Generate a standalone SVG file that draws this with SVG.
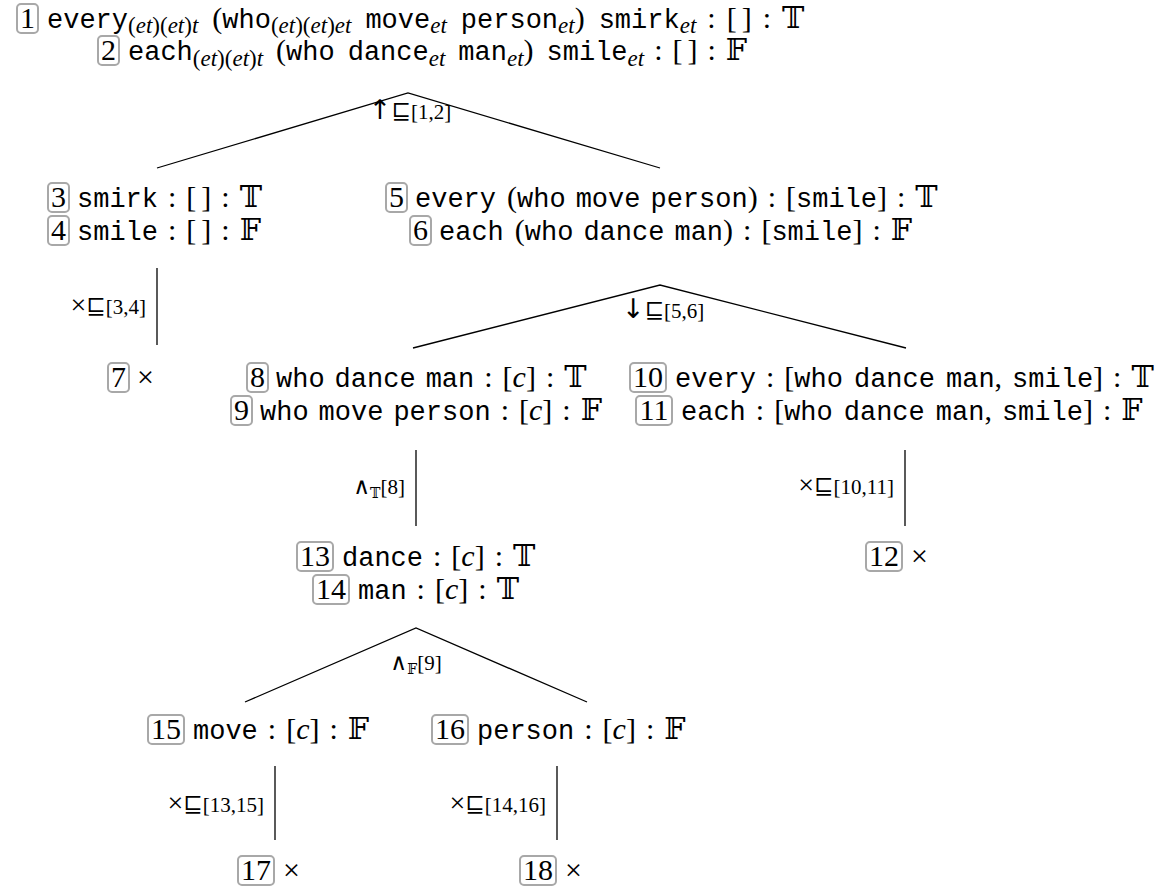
<svg xmlns="http://www.w3.org/2000/svg" width="1173" height="891" viewBox="0 0 1173 891">
<style>
text{fill:#000}
.rm{font-family:"Liberation Serif","DejaVu Serif",serif;font-size:30px}
.tt{font-family:"Liberation Mono","DejaVu Sans Mono",monospace;font-size:27px}
.sb{font-family:"Liberation Serif","DejaVu Serif",serif;font-size:23px}
.it{font-style:italic}
.bb{font-family:"DejaVu Serif","DejaVu Sans",serif}
.num{font-family:"Liberation Serif",serif;font-size:30px;text-anchor:middle}
.lb{font-family:"Liberation Serif","DejaVu Serif",serif;font-size:21px}
.sy{font-family:"DejaVu Serif","DejaVu Sans",serif;font-size:23px}
.ar{font-family:"DejaVu Sans",serif;font-size:27px}
.x{font-size:28px}
.box{fill:none;stroke:#a8a8a8;stroke-width:2}
.edge{stroke:#000;stroke-width:1.3;fill:none}
</style>
<rect width="1173" height="891" fill="#fff"/>
<g id="connectors">
<polyline class="edge" points="157,168 408,93 660,168"/>
<text class="lb" x="410" y="119" text-anchor="middle"><tspan class="ar">↑</tspan><tspan class="sy">⊑</tspan>[1,2]</text>
<line class="edge" x1="157" y1="268" x2="157" y2="345"/>
<text class="lb" x="146" y="314" text-anchor="end"><tspan class="x">×</tspan><tspan class="sy">⊑</tspan>[3,4]</text>
<polyline class="edge" points="413,348 660,285 906,348"/>
<text class="lb" x="622" y="318"><tspan class="ar">↓</tspan><tspan class="sy">⊑</tspan>[5,6]</text>
<line class="edge" x1="416" y1="450" x2="416" y2="526"/>
<text class="lb" x="405" y="494" text-anchor="end"><tspan class="sy">∧</tspan><tspan class="bb" font-size="14" dy="4">𝕋</tspan><tspan dy="-4">[8]</tspan></text>
<line class="edge" x1="905" y1="450" x2="905" y2="526"/>
<text class="lb" x="894" y="494" text-anchor="end"><tspan class="x">×</tspan><tspan class="sy">⊑</tspan>[10,11]</text>
<polyline class="edge" points="245,702 416,628 587,702"/>
<text class="lb" x="416" y="670" text-anchor="middle"><tspan class="sy">∧</tspan><tspan class="bb" font-size="14" dy="4">𝔽</tspan><tspan dy="-4">[9]</tspan></text>
<line class="edge" x1="275" y1="766" x2="275" y2="840"/>
<text class="lb" x="264" y="812" text-anchor="end"><tspan class="x">×</tspan><tspan class="sy">⊑</tspan>[13,15]</text>
<line class="edge" x1="557" y1="766" x2="557" y2="840"/>
<text class="lb" x="546" y="812" text-anchor="end"><tspan class="x">×</tspan><tspan class="sy">⊑</tspan>[14,16]</text>
</g>
<g id="n1"><rect class="box" x="17" y="4" width="21" height="29" rx="4"/><text class="num" x="27.5" y="28">1</text>
<text class="rm" x="47" y="28"><tspan class="tt">every</tspan><tspan class="sb" dy="5">(<tspan class="it">et</tspan>)(<tspan class="it">et</tspan>)<tspan class="it">t</tspan></tspan><tspan dy="-5" dx="14">(</tspan><tspan class="tt">who</tspan><tspan class="sb" dy="5">(<tspan class="it">et</tspan>)(<tspan class="it">et</tspan>)<tspan class="it">et</tspan></tspan><tspan class="tt" dy="-5" dx="14">move</tspan><tspan class="sb it" dy="5">et</tspan><tspan class="tt" dy="-5" dx="14">person</tspan><tspan class="sb it" dy="5">et</tspan><tspan dy="-5">)</tspan><tspan class="tt" dx="14">smirk</tspan><tspan class="sb it" dy="5">et</tspan><tspan dy="-5" dx="11">:</tspan><tspan dx="11">[</tspan><tspan dx="5">]</tspan><tspan dx="11">:</tspan><tspan class="bb" dx="11">𝕋</tspan></text></g>
<g id="n2"><rect class="box" x="98" y="36" width="21" height="29" rx="4"/><text class="num" x="108.5" y="60">2</text>
<text class="rm" x="128" y="60"><tspan class="tt">each</tspan><tspan class="sb" dy="6">(<tspan class="it">et</tspan>)(<tspan class="it">et</tspan>)<tspan class="it">t</tspan></tspan><tspan dy="-6" dx="13">(</tspan><tspan class="tt">who</tspan><tspan class="tt" dx="13">dance</tspan><tspan class="sb it" dy="6">et</tspan><tspan class="tt" dy="-6" dx="13">man</tspan><tspan class="sb it" dy="6">et</tspan><tspan dy="-6">)</tspan><tspan class="tt" dx="13">smile</tspan><tspan class="sb it" dy="6">et</tspan><tspan dy="-6" dx="10">:</tspan><tspan dx="10">[</tspan><tspan dx="5">]</tspan><tspan dx="10">:</tspan><tspan class="bb" dx="10">𝔽</tspan></text></g>
<g id="n3"><rect class="box" x="48" y="183" width="21" height="29" rx="4"/><text class="num" x="58.5" y="207">3</text>
<text class="rm" x="77" y="207"><tspan class="tt">smirk</tspan><tspan dx="10">:</tspan><tspan dx="10">[</tspan><tspan dx="5">]</tspan><tspan dx="10">:</tspan><tspan class="bb" dx="10">𝕋</tspan></text></g>
<g id="n4"><rect class="box" x="48" y="216" width="21" height="29" rx="4"/><text class="num" x="58.5" y="240">4</text>
<text class="rm" x="77" y="240"><tspan class="tt">smile</tspan><tspan dx="10">:</tspan><tspan dx="10">[</tspan><tspan dx="5">]</tspan><tspan dx="10">:</tspan><tspan class="bb" dx="10">𝔽</tspan></text></g>
<g id="n5"><rect class="box" x="386" y="183" width="21" height="29" rx="4"/><text class="num" x="396.5" y="207">5</text>
<text class="rm" x="415" y="207"><tspan class="tt">every</tspan><tspan dx="11">(</tspan><tspan class="tt">who</tspan><tspan class="tt" dx="10">move</tspan><tspan class="tt" dx="10">person</tspan><tspan>)</tspan><tspan dx="10">:</tspan><tspan dx="10">[</tspan><tspan class="tt">smile</tspan><tspan>]</tspan><tspan dx="10">:</tspan><tspan class="bb" dx="10">𝕋</tspan></text></g>
<g id="n6"><rect class="box" x="410" y="216" width="21" height="29" rx="4"/><text class="num" x="420.5" y="240">6</text>
<text class="rm" x="439" y="240"><tspan class="tt">each</tspan><tspan dx="11">(</tspan><tspan class="tt">who</tspan><tspan class="tt" dx="10">dance</tspan><tspan class="tt" dx="10">man</tspan><tspan>)</tspan><tspan dx="10">:</tspan><tspan dx="10">[</tspan><tspan class="tt">smile</tspan><tspan>]</tspan><tspan dx="10">:</tspan><tspan class="bb" dx="10">𝔽</tspan></text></g>
<g id="n7"><rect class="box" x="108" y="363" width="21" height="29" rx="4"/><text class="num" x="118.5" y="387">7</text>
<text class="rm" x="137" y="387" font-size="36">×</text></g>
<g id="n8"><rect class="box" x="247" y="363" width="21" height="29" rx="4"/><text class="num" x="257.5" y="387">8</text>
<text class="rm" x="276" y="387"><tspan class="tt">who</tspan><tspan class="tt" dx="10">dance</tspan><tspan class="tt" dx="10">man</tspan><tspan dx="10">:</tspan><tspan dx="10">[</tspan><tspan class="it">c</tspan><tspan>]</tspan><tspan dx="10">:</tspan><tspan class="bb" dx="10">𝕋</tspan></text></g>
<g id="n9"><rect class="box" x="231" y="396" width="21" height="29" rx="4"/><text class="num" x="241.5" y="420">9</text>
<text class="rm" x="260" y="420"><tspan class="tt">who</tspan><tspan class="tt" dx="10">move</tspan><tspan class="tt" dx="10">person</tspan><tspan dx="10">:</tspan><tspan dx="10">[</tspan><tspan class="it">c</tspan><tspan>]</tspan><tspan dx="10">:</tspan><tspan class="bb" dx="10">𝔽</tspan></text></g>
<g id="n10"><rect class="box" x="630" y="363" width="36" height="29" rx="4"/><text class="num" x="648" y="387">10</text>
<text class="rm" x="675" y="387"><tspan class="tt">every</tspan><tspan dx="10">:</tspan><tspan dx="10">[</tspan><tspan class="tt">who</tspan><tspan class="tt" dx="11">dance</tspan><tspan class="tt" dx="11">man</tspan><tspan>,</tspan><tspan class="tt" dx="10">smile</tspan><tspan>]</tspan><tspan dx="10">:</tspan><tspan class="bb" dx="10">𝕋</tspan></text></g>
<g id="n11"><rect class="box" x="636" y="396" width="36" height="29" rx="4"/><text class="num" x="654" y="420">11</text>
<text class="rm" x="681" y="420"><tspan class="tt">each</tspan><tspan dx="10">:</tspan><tspan dx="10">[</tspan><tspan class="tt">who</tspan><tspan class="tt" dx="11">dance</tspan><tspan class="tt" dx="11">man</tspan><tspan>,</tspan><tspan class="tt" dx="10">smile</tspan><tspan>]</tspan><tspan dx="10">:</tspan><tspan class="bb" dx="10">𝔽</tspan></text></g>
<g id="n12"><rect class="box" x="866" y="542" width="36" height="29" rx="4"/><text class="num" x="884" y="566">12</text>
<text class="rm" x="911" y="566" font-size="36">×</text></g>
<g id="n13"><rect class="box" x="297" y="542" width="36" height="29" rx="4"/><text class="num" x="315" y="566">13</text>
<text class="rm" x="342" y="566"><tspan class="tt">dance</tspan><tspan dx="10">:</tspan><tspan dx="10">[</tspan><tspan class="it">c</tspan><tspan>]</tspan><tspan dx="10">:</tspan><tspan class="bb" dx="10">𝕋</tspan></text></g>
<g id="n14"><rect class="box" x="313" y="575" width="36" height="29" rx="4"/><text class="num" x="331" y="599">14</text>
<text class="rm" x="358" y="599"><tspan class="tt">man</tspan><tspan dx="10">:</tspan><tspan dx="10">[</tspan><tspan class="it">c</tspan><tspan>]</tspan><tspan dx="10">:</tspan><tspan class="bb" dx="10">𝕋</tspan></text></g>
<g id="n15"><rect class="box" x="148" y="715" width="36" height="29" rx="4"/><text class="num" x="166" y="739">15</text>
<text class="rm" x="193" y="739"><tspan class="tt">move</tspan><tspan dx="10">:</tspan><tspan dx="10">[</tspan><tspan class="it">c</tspan><tspan>]</tspan><tspan dx="10">:</tspan><tspan class="bb" dx="10">𝔽</tspan></text></g>
<g id="n16"><rect class="box" x="432" y="715" width="36" height="29" rx="4"/><text class="num" x="450" y="739">16</text>
<text class="rm" x="477" y="739"><tspan class="tt">person</tspan><tspan dx="10">:</tspan><tspan dx="10">[</tspan><tspan class="it">c</tspan><tspan>]</tspan><tspan dx="10">:</tspan><tspan class="bb" dx="10">𝔽</tspan></text></g>
<g id="n17"><rect class="box" x="238" y="856" width="36" height="29" rx="4"/><text class="num" x="256" y="880">17</text>
<text class="rm" x="283" y="880" font-size="36">×</text></g>
<g id="n18"><rect class="box" x="520" y="856" width="36" height="29" rx="4"/><text class="num" x="538" y="880">18</text>
<text class="rm" x="565" y="880" font-size="36">×</text></g>
</svg>
